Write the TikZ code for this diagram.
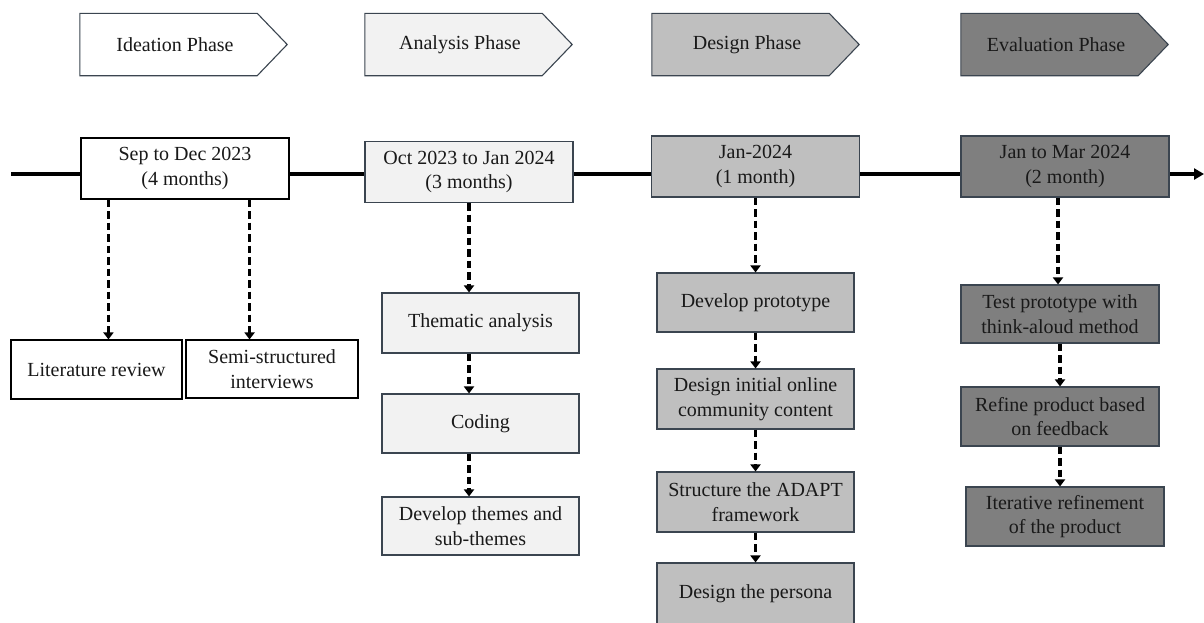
\documentclass[tikz,border=0pt]{standalone}
\usepackage{fontspec}
\setmainfont{Liberation Serif}
\usetikzlibrary{arrows.meta,calc}
\definecolor{cA}{HTML}{F2F2F2}
\definecolor{cD}{HTML}{BFBFBF}
\definecolor{cE}{HTML}{7F7F7F}
\definecolor{edge}{HTML}{3B4550}
\tikzset{
  txt/.style={font=\fontsize{20}{24.5}\selectfont, align=center, text=black!90},
  body/.style={minimum width=177pt, minimum height=62pt, inner sep=0pt},
  outl/.style={draw=edge, line width=1.1pt},
  datebox/.style={txt, outl, minimum width=208pt, minimum height=61pt, inner sep=0pt},
  subbox/.style={txt, outl, minimum height=59pt, inner sep=0pt},
  dasharrow/.style={line width=3.3pt, dash pattern=on 7.5pt off 4pt, -{Triangle[width=10pt,length=7pt]}},
  timeline/.style={line width=3.2pt, -{Triangle[width=11pt,length=10pt]}}
}
\begin{document}
\begin{tikzpicture}[x=1pt,y=-1pt]
\useasboundingbox (0,0) rectangle (1204,622);
\clip (0,0) rectangle (1204,622);
% timeline
\coordinate (tl0) at (11,174);
\coordinate (tl1) at (1204,174);
\draw[timeline] (tl0) -- (tl1);
% phase headers
\foreach \nm/\x/\col/\lab in {p1/168.5/white/Ideation Phase, p2/453.5/cA/Analysis Phase, p3/740.5/cD/Design Phase, p4/1049.5/cE/Evaluation Phase}{
  \node[body] (\nm) at (\x,44.5) {};
  \draw[outl, fill=\col] (\nm.north west) -- (\nm.north east) -- ([xshift=30pt]\nm.east) -- (\nm.south east) -- (\nm.south west) -- cycle;
  \node[txt] (\nm t) at ([xshift=6.5pt]\nm.center) {\lab};
}
% date boxes
\node[datebox, fill=white, draw=black] (d1) at (185,168.5) {Sep to Dec 2023\\(4 months)};
\node[datebox, fill=cA] (d2) at (469,172) {Oct 2023 to Jan 2024\\(3 months)};
\node[datebox, fill=cD] (d3) at (755.5,166.5) {Jan-2024\\(1 month)};
\node[datebox, fill=cE] (d4) at (1065,166.5) {Jan to Mar 2024\\(2 month)};
% ideation
\node[subbox, fill=white, draw=black, minimum width=171pt] (lit) at (96.5,369.5) {Literature review};
\node[subbox, fill=white, draw=black, minimum width=172pt, minimum height=58pt] (semi) at (272,369) {Semi-structured\\interviews};
% analysis
\node[subbox, fill=cA, minimum width=197pt, minimum height=60pt] (them) at (480.5,323) {Thematic analysis};
\node[subbox, fill=cA, minimum width=197pt] (cod) at (480.5,423.5) {Coding};
\node[subbox, fill=cA, minimum width=197pt, minimum height=58pt] (dev) at (480.5,526) {Develop themes and\\sub-themes};
% design
\node[subbox, fill=cD, minimum width=197pt] (proto) at (755.5,302.5) {Develop prototype};
\node[subbox, fill=cD, minimum width=197pt, minimum height=60pt] (init) at (755.5,399) {Design initial online\\community content};
\node[subbox, fill=cD, minimum width=197pt, minimum height=60pt] (struct) at (755.5,502) {Structure the ADAPT\\framework};
\node[subbox, fill=cD, minimum width=197pt, minimum height=62pt] (pers) at (755.5,594) {Design the persona};
% evaluation
\node[subbox, fill=cE, minimum width=198pt, minimum height=58pt] (test) at (1060,314) {Test prototype with\\think-aloud method};
\node[subbox, fill=cE, minimum width=198pt] (ref) at (1060,416.5) {Refine product based\\on feedback};
\node[subbox, fill=cE, minimum width=198pt] (iter) at (1065,516.5) {Iterative refinement\\of the product};
% connectors
\draw[dasharrow] ([xshift=28pt]d1.south west) -- ([xshift=28pt]d1.south west |- lit.north);
\draw[dasharrow] ([xshift=-40pt]d1.south east) -- ([xshift=-40pt]d1.south east |- semi.north);
\draw[dasharrow] (d2.south) -- (d2.south |- them.north);
\draw[dasharrow] (them.south -| d2.south) -- (cod.north -| d2.south);
\draw[dasharrow] (cod.south -| d2.south) -- (dev.north -| d2.south);
\draw[dasharrow] (d3.south) -- (proto.north);
\draw[dasharrow] (proto.south) -- (init.north);
\draw[dasharrow] (init.south) -- (struct.north);
\draw[dasharrow] (struct.south) -- (pers.north);
\draw[dasharrow] ([xshift=-2pt]test.north |- d4.south) -- ([xshift=-2pt]test.north);
\draw[dasharrow] (test.south) -- (ref.north);
\draw[dasharrow] (ref.south) -- (ref.south |- iter.north);
\end{tikzpicture}
\end{document}
